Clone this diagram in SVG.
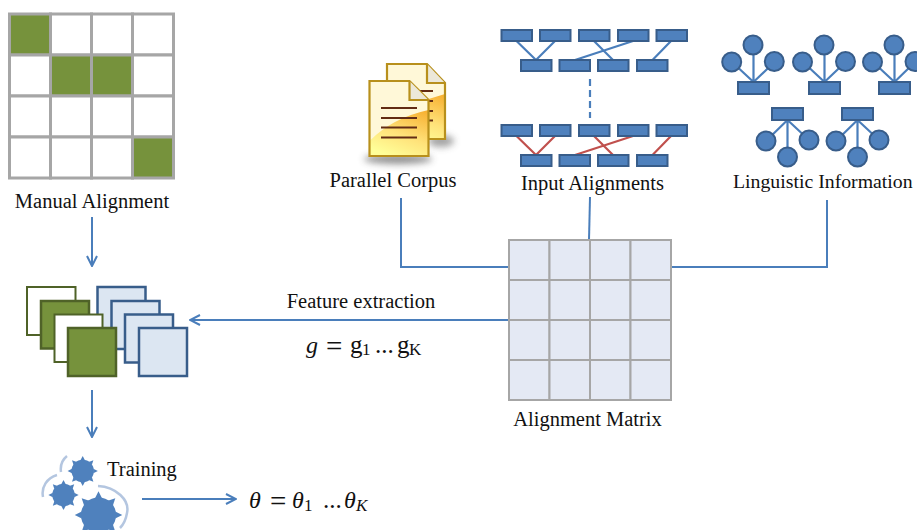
<svg xmlns="http://www.w3.org/2000/svg" xmlns:xlink="http://www.w3.org/1999/xlink" width="917" height="530" viewBox="0 0 917 530">
<style>
text{font-family:"Liberation Serif","Times New Roman",serif;font-size:20.5px;fill:#111}
.mi{font-size:24px;font-style:italic}
.mu{font-size:25px}
.eq{font-size:29px}
.sb{font-size:17px}
.cell{fill:#fff;stroke:#a6a6a6;stroke-width:3}
.on{fill:#76923c}
.mx{fill:#e4e9f4;stroke:#a6a6a6;stroke-width:2}
.b{fill:#4f81bd;stroke:#385d8a;stroke-width:2}
.bl{stroke:#4a7ebb;stroke-width:2.2;fill:none}
.rl{stroke:#c0504d;stroke-width:2.2;fill:none}
.conn{stroke:#4a7ebb;stroke-width:2;fill:none}
.gw{fill:#fff;stroke:#4f6228;stroke-width:2}
.gg{fill:#76923c;stroke:#4f6228;stroke-width:2.5}
.bb{fill:#dce6f2;stroke:#385d8a;stroke-width:2.5}
.arc{stroke:#b4c6e0;stroke-width:2.5;fill:none}
.tx{stroke:#632c14;stroke-width:2;fill:none}
.dc{stroke:#b8901c;stroke-width:2.2;fill:none}
.cream{fill:#fff8d8}
.fold{fill:#ece8d8}
</style>
<defs>
<marker id="arr" viewBox="0 0 12 12" refX="11" refY="6" markerWidth="12" markerHeight="12" markerUnits="userSpaceOnUse" orient="auto">
<path d="M1 1L11 6L1 11" fill="none" stroke="#4a7ebb" stroke-width="2"/>
</marker>
<linearGradient id="low" x1="0.85" y1="0" x2="0.35" y2="1">
<stop offset="0" stop-color="#f7b234"/><stop offset="0.55" stop-color="#ffe27a"/><stop offset="1" stop-color="#ffff99"/>
</linearGradient>
<filter id="bl" x="-30%" y="-150%" width="160%" height="400%"><feGaussianBlur stdDeviation="3.5"/></filter>
<path id="tooth" d="M-0.16 -0.76L0 -1.08L0.16 -0.76Z"/>
<g id="gear" fill="#4f81bd">
<circle r="0.8"/>
<use xlink:href="#tooth"/>
<use xlink:href="#tooth" transform="rotate(45)"/>
<use xlink:href="#tooth" transform="rotate(90)"/>
<use xlink:href="#tooth" transform="rotate(135)"/>
<use xlink:href="#tooth" transform="rotate(180)"/>
<use xlink:href="#tooth" transform="rotate(225)"/>
<use xlink:href="#tooth" transform="rotate(270)"/>
<use xlink:href="#tooth" transform="rotate(315)"/>
</g>
<g id="r"><rect width="30.5" height="11" class="b"/></g>
<g id="r2"><rect width="31" height="12" class="b"/></g>
</defs>

<g id="connectors">
<path class="conn" d="M92 217V266" marker-end="url(#arr)"/>
<path class="conn" d="M92 390V437" marker-end="url(#arr)"/>
<path class="conn" d="M509 320H190" marker-end="url(#arr)"/>
<path class="conn" d="M142 499H236" marker-end="url(#arr)"/>
<path class="conn" d="M401 198V267H509"/>
<path class="conn" d="M590 197L589 240"/>
<path class="conn" d="M827 200V267H671"/>
</g>

<g id="manual-alignment">
<rect class="cell on" x="9.500" y="14" width="41" height="41"/>
<rect class="cell" x="50.500" y="14" width="41" height="41"/><rect class="cell" x="91.500" y="14" width="41" height="41"/><rect class="cell" x="132.500" y="14" width="41" height="41"/>
<rect class="cell" x="9.500" y="55" width="41" height="41"/><rect class="cell on" x="50.500" y="55" width="41" height="41"/><rect class="cell on" x="91.500" y="55" width="41" height="41"/><rect class="cell" x="132.500" y="55" width="41" height="41"/>
<rect class="cell" x="9.500" y="96" width="41" height="41"/><rect class="cell" x="50.500" y="96" width="41" height="41"/><rect class="cell" x="91.500" y="96" width="41" height="41"/><rect class="cell" x="132.500" y="96" width="41" height="41"/>
<rect class="cell" x="9.500" y="137" width="41" height="41"/><rect class="cell" x="50.500" y="137" width="41" height="41"/><rect class="cell" x="91.500" y="137" width="41" height="41"/><rect class="cell on" x="132.500" y="137" width="41" height="41"/>
<text x="92" y="207.500" text-anchor="middle">Manual Alignment</text>
</g>

<g id="parallel-corpus">
<ellipse cx="398" cy="159" rx="34" ry="5" fill="#444" opacity="0.6" filter="url(#bl)"/>
<ellipse cx="441" cy="141" rx="13" ry="6" fill="#444" opacity="0.5" filter="url(#bl)"/>
<path class="cream" d="M387 64H427L445 83V139H387Z"/>
<path fill="url(#low)" d="M387 112Q415 103 445 94V139H387Z"/>
<path class="dc" d="M387 64H427L445 83V139H387Z"/>
<path class="fold" d="M427 64V83H445Z"/>
<path class="dc" d="M427 64V83H445"/>
<path class="tx" d="M417 91H433M417 101H433M417 111H433M417 120.500H433"/>
<path class="cream" d="M369.500 81H409.500L428.500 100V156H369.500Z"/>
<path fill="url(#low)" d="M369.500 141Q392 118 428.500 110V156H369.500Z"/>
<path class="dc" d="M369.500 81H409.500L428.500 100V156H369.500Z"/>
<path class="fold" d="M409.500 81V100H428.500Z"/>
<path class="dc" d="M409.500 81V100H428.500"/>
<path class="tx" d="M381 108H417M381 118H417M381 127.500H417M381 137.500H417"/>
<text x="393" y="186.500" text-anchor="middle">Parallel Corpus</text>
</g>

<g id="input-alignments">
<path class="bl" d="M516.500 41L536 60L555 41M594 41L613 60M633 41L575 60M671 41L652.500 60"/>
<path class="rl" d="M516.500 136L536 155L555 136M594 136L613 155M633 136L575 155M671 136L652.500 155"/>
<path class="bl" d="M590 79V118" stroke-dasharray="7 4"/>
<use xlink:href="#r" x="501.500" y="30"/><use xlink:href="#r" x="540" y="30"/><use xlink:href="#r" x="579" y="30"/><use xlink:href="#r" x="618" y="30"/><use xlink:href="#r" x="656.500" y="30"/>
<use xlink:href="#r" x="521" y="60"/><use xlink:href="#r" x="559.500" y="60"/><use xlink:href="#r" x="598" y="60"/><use xlink:href="#r" x="637" y="60"/>
<use xlink:href="#r" x="501.500" y="125"/><use xlink:href="#r" x="540" y="125"/><use xlink:href="#r" x="579" y="125"/><use xlink:href="#r" x="618" y="125"/><use xlink:href="#r" x="656.500" y="125"/>
<use xlink:href="#r" x="521" y="155"/><use xlink:href="#r" x="559.500" y="155"/><use xlink:href="#r" x="598" y="155"/><use xlink:href="#r" x="637" y="155"/>
<text x="592.500" y="189.500" text-anchor="middle">Input Alignments</text>
</g>

<g id="linguistic-information">
<path class="bl" d="M753.500 82V45M753.500 82L732 62M753.500 82L774.500 62M824.500 82V45M824.500 82L803 62M824.500 82L845.500 62M894.500 82V45M894.500 82L873 62M894.500 82L915 62"/>
<path class="bl" d="M787.500 120V157M787.500 120L766 141M787.500 120L809 140M857.500 120V157M857.500 120L836 141M857.500 120L879 140"/>
<circle class="b" cx="753" cy="45" r="9.500"/><circle class="b" cx="731.700" cy="62" r="9.500"/><circle class="b" cx="774.300" cy="61.500" r="9.500"/>
<circle class="b" cx="824" cy="45" r="9.500"/><circle class="b" cx="802.500" cy="62" r="9.500"/><circle class="b" cx="845.500" cy="61.500" r="9.500"/>
<circle class="b" cx="894" cy="45" r="9.500"/><circle class="b" cx="872.500" cy="62" r="9.500"/><circle class="b" cx="915" cy="61.500" r="9.500"/>
<use xlink:href="#r2" x="738" y="82"/><use xlink:href="#r2" x="809" y="82"/><use xlink:href="#r2" x="879" y="82"/>
<use xlink:href="#r2" x="772" y="108"/><use xlink:href="#r2" x="842" y="108"/>
<circle class="b" cx="766" cy="141" r="9.500"/><circle class="b" cx="809" cy="140" r="9.500"/><circle class="b" cx="787.500" cy="157" r="9.500"/>
<circle class="b" cx="836" cy="141" r="9.500"/><circle class="b" cx="879" cy="140" r="9.500"/><circle class="b" cx="857.500" cy="157" r="9.500"/>
<text x="733" y="187.500" style="font-size:19.800px">Linguistic Information</text>
</g>

<g id="alignment-matrix">
<rect class="mx" x="509" y="240" width="40.500" height="40"/><rect class="mx" x="549.500" y="240" width="40.500" height="40"/><rect class="mx" x="590" y="240" width="40.500" height="40"/><rect class="mx" x="630.500" y="240" width="40.500" height="40"/>
<rect class="mx" x="509" y="280" width="40.500" height="40"/><rect class="mx" x="549.500" y="280" width="40.500" height="40"/><rect class="mx" x="590" y="280" width="40.500" height="40"/><rect class="mx" x="630.500" y="280" width="40.500" height="40"/>
<rect class="mx" x="509" y="320" width="40.500" height="40"/><rect class="mx" x="549.500" y="320" width="40.500" height="40"/><rect class="mx" x="590" y="320" width="40.500" height="40"/><rect class="mx" x="630.500" y="320" width="40.500" height="40"/>
<rect class="mx" x="509" y="360" width="40.500" height="40"/><rect class="mx" x="549.500" y="360" width="40.500" height="40"/><rect class="mx" x="590" y="360" width="40.500" height="40"/><rect class="mx" x="630.500" y="360" width="40.500" height="40"/>
<text x="587.500" y="425.500" text-anchor="middle">Alignment Matrix</text>
</g>

<g id="feature-matrices">
<rect class="bb" x="97.500" y="287" width="48" height="48"/><rect class="bb" x="111.500" y="301" width="48" height="48"/><rect class="bb" x="125" y="314.500" width="48" height="48"/><rect class="bb" x="139" y="328" width="48" height="48"/>
<rect class="gw" x="27" y="287" width="48.500" height="48"/><rect class="gg" x="41" y="301" width="48" height="47.500"/><rect class="gw" x="54.500" y="314.500" width="48" height="47.500"/><rect class="gg" x="68" y="328" width="48" height="48"/>
</g>

<g id="feature-extraction">
<text x="361" y="307.500" text-anchor="middle">Feature extraction</text>
<text x="306" y="353" class="mi">g</text>
<text x="326" y="356" class="eq">=</text>
<text x="350" y="353" class="mu">g</text><text x="362" y="355" class="sb">1</text>
<text x="375" y="353" class="mu">...</text>
<text x="397" y="353" class="mu">g</text><text x="409" y="355" class="sb">K</text>
</g>

<g id="training">
<path class="arc" d="M61 472C60 465 62 460 67 456M57 475C47 478 41 487 43 497M98 486C116 487 130 500 127 513C126 519 124 524 120 528"/>
<use xlink:href="#gear" transform="translate(82.700 471) scale(14)"/>
<use xlink:href="#gear" transform="translate(63.500 495) scale(14)"/>
<use xlink:href="#gear" transform="translate(98.500 515) scale(22)"/>
<text x="107" y="475.500">Training</text>
<text x="249" y="508" class="mi">θ</text>
<text x="270" y="511" class="eq">=</text>
<text x="292" y="508" class="mi">θ</text><text x="304" y="511" class="sb">1</text>
<text x="323" y="508" class="mu">...</text>
<text x="344" y="508" class="mi">θ</text><text x="356" y="511" class="sb" font-style="italic">K</text>
</g>
</svg>
